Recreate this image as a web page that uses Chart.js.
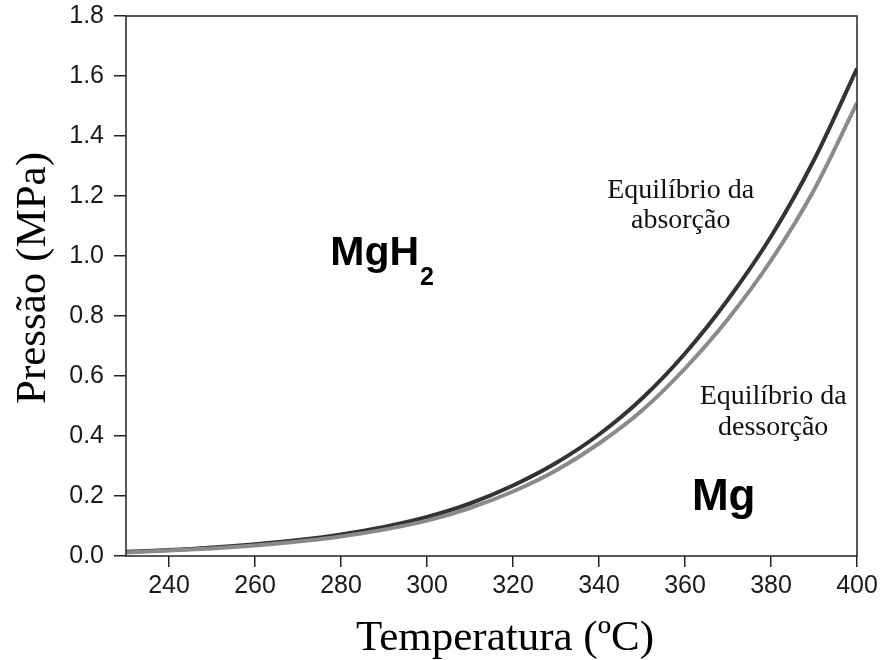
<!DOCTYPE html>
<html>
<head>
<meta charset="utf-8">
<script src="https://cdn.jsdelivr.net/npm/chart.js@4"></script>
<style>
  html, body { margin: 0; padding: 0; background: #fff; }
  #wrap { width: 882px; height: 660px; }
</style>
</head>
<body>
<div id="wrap"><canvas id="pctChart" width="882" height="660"></canvas></div>
<script>
// temperatures (ºC) and equilibrium pressures (MPa)
const temperatures = [230, 240, 250, 260, 270, 280, 290, 300, 310, 320, 330, 340, 350, 360, 370, 380, 390, 400];
const absorption = [0.014, 0.020, 0.028, 0.039, 0.053, 0.072, 0.097, 0.130, 0.175, 0.235, 0.310, 0.405, 0.525, 0.675, 0.855, 1.065, 1.320, 1.625];
const desorption = [0.012, 0.018, 0.025, 0.035, 0.048, 0.065, 0.088, 0.118, 0.160, 0.215, 0.285, 0.375, 0.485, 0.625, 0.790, 0.985, 1.220, 1.510];
const xTicks = [240, 260, 280, 300, 320, 340, 360, 380, 400];
const yTicks = [0.0, 0.2, 0.4, 0.6, 0.8, 1.0, 1.2, 1.4, 1.6, 1.8];

const toPoints = vals => temperatures.map((t, i) => ({ x: t, y: vals[i] }));

const sansFont = "'Liberation Sans', Arial, sans-serif";
const serifFont = "'Liberation Serif', 'Times New Roman', serif";

// box around the plot + region labels and axis titles
const framePlugin = {
    id: 'frame',
    afterDraw(chart) {
        const { ctx, chartArea: a, scales } = chart;
        const x = scales.x, y = scales.y;
        ctx.save();
        ctx.strokeStyle = '#222';
        ctx.lineWidth = 1.5;
        ctx.strokeRect(a.left, a.top, a.right - a.left, a.bottom - a.top);

        ctx.fillStyle = '#000';
        ctx.textBaseline = 'alphabetic';

        // MgH2
        ctx.font = "bold 41px " + sansFont;
        ctx.textAlign = 'left';
        let px = x.getPixelForValue(277.5), py = y.getPixelForValue(0.97);
        ctx.fillText('MgH', px, py);
        const w = ctx.measureText('MgH').width;
        ctx.font = "bold 25px " + sansFont;
        ctx.fillText('2', px + w + 1, py + 20);

        // Mg
        ctx.font = "bold 44px " + sansFont;
        ctx.fillText('Mg', x.getPixelForValue(361.6), y.getPixelForValue(0.153));

        // curve labels
        ctx.textAlign = 'center';
        ctx.font = "28px " + serifFont;
        ctx.fillStyle = '#111';
        let cx = x.getPixelForValue(359);
        ctx.fillText('Equilíbrio da', cx, y.getPixelForValue(1.193));
        ctx.fillText('absorção', cx, y.getPixelForValue(1.093));
        cx = x.getPixelForValue(380.5);
        ctx.fillText('Equilíbrio da', cx, y.getPixelForValue(0.507));
        ctx.fillText('dessorção', cx, y.getPixelForValue(0.403));

        // axis titles
        ctx.fillStyle = '#000';
        ctx.font = "43px " + serifFont;
        ctx.fillText('Temperatura (ºC)', 505, 650);
        ctx.translate(45, 278);
        ctx.rotate(-Math.PI / 2);
        ctx.fillText('Pressão (MPa)', 0, 0);
        ctx.restore();
    }
};

const ctx = document.getElementById('pctChart').getContext('2d');
new Chart(ctx, {
    type: 'line',
    data: {
        datasets: [
            {
                label: 'Equilíbrio da dessorção',
                data: toPoints(desorption),
                borderColor: '#8a8a8a',
                borderWidth: 4,
                pointRadius: 0,
                tension: 0.3
            },
            {
                label: 'Equilíbrio da absorção',
                data: toPoints(absorption),
                borderColor: '#333333',
                borderWidth: 4,
                pointRadius: 0,
                tension: 0.3
            }
        ]
    },
    options: {
        responsive: false,
        animation: false,
        layout: { padding: { top: 16, right: 25, left: 0, bottom: 0 } },
        plugins: {
            legend: { display: false },
            tooltip: { enabled: false }
        },
        scales: {
            x: {
                type: 'linear',
                min: 230,
                max: 400,
                afterBuildTicks: s => { s.ticks = xTicks.map(v => ({ value: v })); },
                afterFit: s => { s.height = 104; s.paddingLeft = 0; s.paddingRight = 0; },
                grid: { drawOnChartArea: false, drawTicks: true, tickLength: 11, color: '#222', lineWidth: 1.5 },
                border: { display: false },
                ticks: {
                    color: '#1a1a1a',
                    font: { family: sansFont, size: 25 },
                    padding: 4,
                    maxRotation: 0
                }
            },
            y: {
                type: 'linear',
                min: 0,
                max: 1.8,
                afterBuildTicks: s => { s.ticks = yTicks.map(v => ({ value: v })); },
                afterFit: s => { s.width = 126; s.paddingTop = 0; s.paddingBottom = 0; },
                grid: { drawOnChartArea: false, drawTicks: true, tickLength: 12, color: '#222', lineWidth: 1.5 },
                border: { display: false },
                ticks: {
                    color: '#1a1a1a',
                    font: { family: sansFont, size: 25 },
                    padding: 10,
                    callback: v => v.toFixed(1)
                }
            }
        }
    },
    plugins: [framePlugin]
});
</script>
</body>
</html>
